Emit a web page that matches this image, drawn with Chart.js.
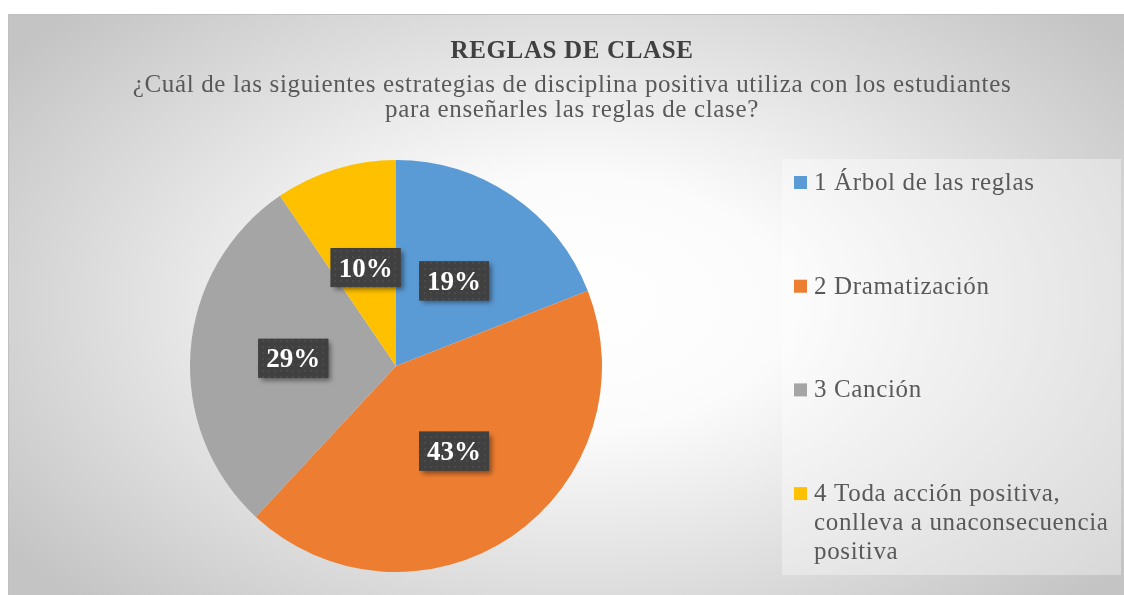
<!DOCTYPE html>
<html>
<head>
<meta charset="utf-8">
<script src="https://cdn.jsdelivr.net/npm/chart.js@4.4.1/dist/chart.umd.min.js"></script>
<style>
  html, body { margin: 0; padding: 0; background: #fff; overflow: hidden; width: 1124px; height: 595px; }
  #wrap { position: absolute; left: 8px; top: 14px; }
</style>
</head>
<body>
<div id="wrap"><canvas id="reglasChart" width="1128" height="582"></canvas></div>
<script>
const titleText = 'REGLAS DE CLASE';
const subtitleLines = [
    '¿Cuál de las siguientes estrategias de disciplina positiva utiliza con los estudiantes',
    'para enseñarles las reglas de clase?'
];
const categories = [
    '1 Árbol de las reglas',
    '2 Dramatización',
    '3 Canción',
    '4 Toda acción positiva, conlleva a unaconsecuencia positiva'
];
const responses = [4, 9, 6, 2];
const sliceColors = ['#5B9BD5', '#ED7D31', '#A5A5A5', '#FFC000'];

const serif = '"Liberation Serif", "Times New Roman", serif';
Chart.defaults.font.family = serif;

// reserves the right-hand strip for the legend, so the title stays centred on the whole chart
const legendBox = {
    position: 'right', weight: 0, fullSize: false, options: {},
    left: 0, top: 0, right: 0, bottom: 0, width: 0, height: 0,
    isHorizontal() { return false; },
    update(maxWidth, maxHeight) { this.width = 352; this.height = maxHeight; },
    draw() {}
};

function dotPattern(ctx) {
    const c = document.createElement('canvas');
    c.width = 6; c.height = 6;
    const p = c.getContext('2d');
    p.fillStyle = '#404040';
    p.fillRect(0, 0, 6, 6);
    p.fillStyle = '#4b4b4b';
    p.fillRect(2, 2, 2, 2);
    return ctx.createPattern(c, 'repeat');
}

function wrapText(ctx, text, maxWidth) {
    const words = text.split(' ');
    let lines = [];
    let line = '';
    words.forEach(function (w) {
        const test = line ? line + ' ' + w : w;
        if (line && ctx.measureText(test).width > maxWidth) {
            lines.push(line);
            line = w;
        } else {
            line = test;
        }
    });
    lines.push(line);
    return lines;
}

const chartBackground = {
    id: 'chartBackground',
    beforeInit(chart) {
        Chart.layouts.addBox(chart, legendBox);
    },
    beforeDraw(chart) {
        const { ctx, width, height } = chart;
        ctx.save();
        ctx.translate(570, 290);
        ctx.scale(1, 0.6);
        const g = ctx.createRadialGradient(0, 0, 0, 0, 0, 700);
        g.addColorStop(0, '#ffffff');
        g.addColorStop(0.3, '#fbfbfb');
        g.addColorStop(1, '#c4c4c4');
        ctx.fillStyle = g;
        ctx.fillRect(-600, -600, 1300, 1300);
        ctx.restore();
        ctx.save();
        ctx.strokeStyle = '#c0c0c0';
        ctx.lineWidth = 1;
        ctx.strokeRect(0.5, 0.5, width - 1, height - 1);
        ctx.restore();
        ctx.letterSpacing = '0.65px';
    }
};

const pieLabels = {
    id: 'pieLabels',
    afterDatasetsDraw(chart) {
        const ctx = chart.ctx;
        const meta = chart.getDatasetMeta(0);
        const total = responses.reduce((a, b) => a + b, 0);
        const pattern = dotPattern(ctx);
        ctx.save();
        ctx.letterSpacing = '0px';
        ctx.font = 'bold 27px ' + serif;
        meta.data.forEach(function (arc, i) {
            const text = Math.round(responses[i] / total * 100) + '%';
            const pos = arc.getCenterPoint();
            const w = ctx.measureText(text).width + 16;
            const h = 39;
            const x = pos.x - w / 2;
            const y = pos.y - h / 2;
            ctx.save();
            ctx.shadowColor = 'rgba(0,0,0,0.45)';
            ctx.shadowBlur = 5;
            ctx.shadowOffsetX = 3;
            ctx.shadowOffsetY = 3;
            ctx.fillStyle = '#404040';
            ctx.fillRect(x, y, w, h);
            ctx.restore();
            ctx.fillStyle = pattern;
            ctx.fillRect(x, y, w, h);
            ctx.fillStyle = '#ffffff';
            ctx.textAlign = 'center';
            ctx.textBaseline = 'alphabetic';
            ctx.fillText(text, pos.x, pos.y + 9);
        });
        ctx.restore();
    }
};

const sideLegend = {
    id: 'sideLegend',
    afterDraw(chart) {
        const ctx = chart.ctx;
        const left = legendBox.left;
        ctx.save();
        ctx.fillStyle = 'rgba(255,255,255,0.35)';
        ctx.fillRect(left - 2, 145, 339, 416);
        ctx.font = '25px ' + serif;
        ctx.letterSpacing = '0.65px';
        ctx.textAlign = 'left';
        ctx.textBaseline = 'alphabetic';
        categories.forEach(function (label, i) {
            const top = 162 + i * 103.7;
            ctx.fillStyle = sliceColors[i];
            ctx.fillRect(left + 10, top, 13, 13);
            ctx.fillStyle = '#595959';
            wrapText(ctx, label, 305).forEach(function (line, j) {
                ctx.fillText(line, left + 30, top + 14 + j * 29);
            });
        });
        ctx.restore();
    }
};

new Chart(document.getElementById('reglasChart'), {
    type: 'pie',
    data: {
        labels: categories,
        datasets: [{
            data: responses,
            backgroundColor: sliceColors,
            borderWidth: 0
        }]
    },
    options: {
        responsive: false,
        animation: false,
        layout: { padding: { top: 0, left: 0, right: 0, bottom: 24 } },
        plugins: {
            legend: { display: false },
            tooltip: { enabled: false },
            title: {
                display: true,
                text: titleText,
                color: '#404040',
                font: { size: 25, weight: 'bold', lineHeight: 1.2 },
                padding: { top: 22.2, bottom: 0 }
            },
            subtitle: {
                display: true,
                text: subtitleLines,
                color: '#595959',
                font: { size: 25, weight: 'normal', lineHeight: 1 },
                padding: { top: 6.5, bottom: 37.3 }
            }
        }
    },
    plugins: [chartBackground, pieLabels, sideLegend]
});
</script>
</body>
</html>
